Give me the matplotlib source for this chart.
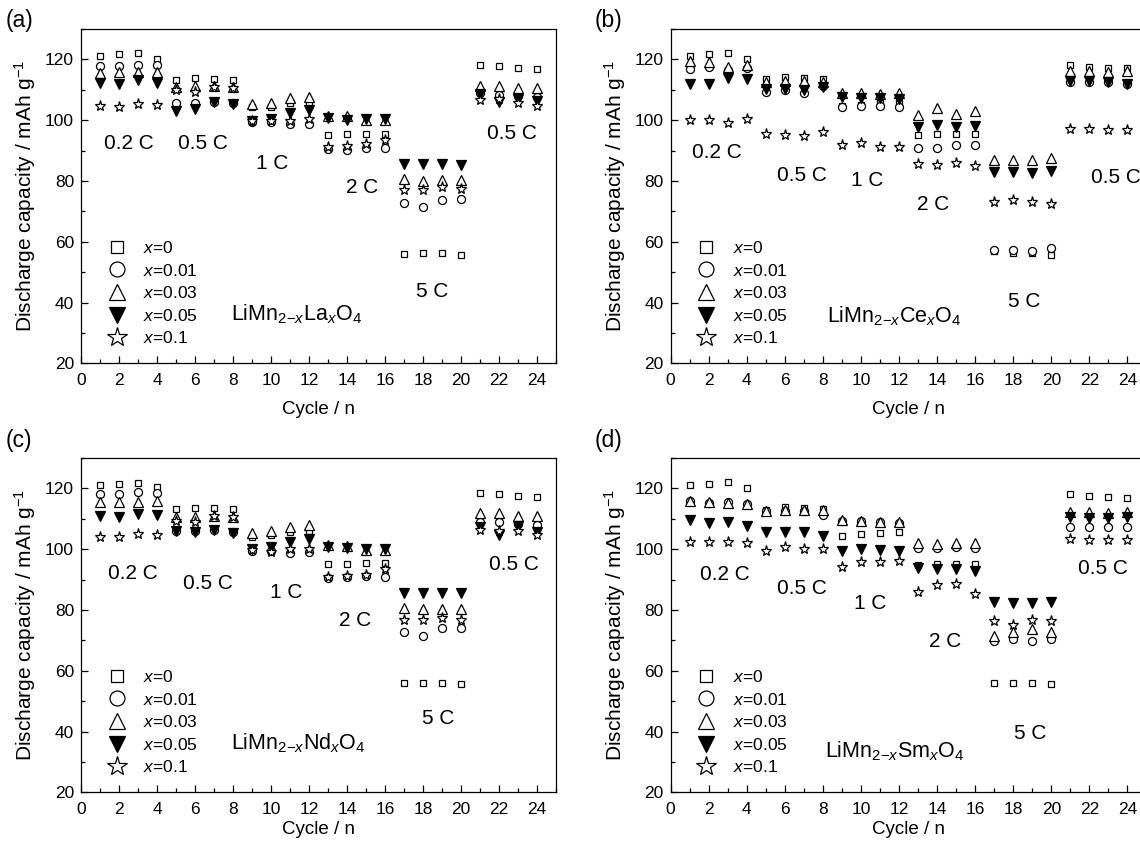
import numpy as np
import matplotlib
matplotlib.use("Agg")
import matplotlib.pyplot as plt
from matplotlib.ticker import MultipleLocator

plt.rcParams['font.family'] = ['Liberation Sans', 'DejaVu Sans']
plt.rcParams['mathtext.fontset'] = 'custom'
plt.rcParams['mathtext.rm'] = 'Liberation Sans'
plt.rcParams['mathtext.it'] = 'Liberation Sans:italic'
plt.rcParams['mathtext.bf'] = 'Liberation Sans:bold'

cycles = np.arange(1, 25)
series_labels = ['$x$=0', '$x$=0.01', '$x$=0.03', '$x$=0.05', '$x$=0.1']
rate_labels = ['0.2 C', '0.5 C', '1 C', '2 C', '5 C', '0.5 C']
compounds = ['LiMn$_{2\\mathrm{-}x}$La$_x$O$_4$', 'LiMn$_{2\\mathrm{-}x}$Ce$_x$O$_4$',
             'LiMn$_{2\\mathrm{-}x}$Nd$_x$O$_4$', 'LiMn$_{2\\mathrm{-}x}$Sm$_x$O$_4$']
panel_tags = ['(a)', '(b)', '(c)', '(d)']

# La-doped
sq_a = [121.2, 121.6, 122.1, 120.2, 113.2, 113.9, 113.4, 113.2, 104.2, 104.3, 105.5, 105.5,
        95.1, 95.4, 95.4, 95.6, 56.0, 56.2, 56.2, 55.7, 118.1, 117.8, 117.0, 116.9]
ci_a = [117.9, 117.7, 118.1, 118.3, 105.6, 105.7, 106.0, 105.5, 99.4, 99.3, 98.6, 98.6,
        90.4, 90.2, 90.7, 90.7, 72.6, 71.4, 73.6, 73.9, 108.8, 108.3, 107.9, 107.7]
tr_a = [115.5, 115.7, 116.0, 115.7, 110.8, 111.3, 111.2, 110.8, 105.3, 105.6, 107.4, 107.5,
        101.5, 101.3, 100.2, 100.0, 80.6, 80.1, 80.2, 80.2, 111.4, 111.3, 110.6, 110.7]
fd_a = [112.2, 111.9, 113.3, 112.3, 102.9, 103.6, 106.0, 105.2, 99.6, 100.4, 102.2, 103.5,
        100.7, 100.1, 100.4, 100.4, 85.5, 85.5, 85.5, 85.4, 108.5, 106.0, 107.0, 106.2]
st_a = [104.5, 104.4, 105.2, 105.0, 109.9, 109.4, 111.0, 110.6, 99.6, 99.6, 99.8, 100.3,
        91.3, 91.6, 92.3, 93.5, 77.1, 77.0, 78.0, 77.2, 106.6, 107.0, 105.6, 104.6]

# Ce-doped
sq_b = [121.2, 121.6, 122.2, 120.1, 113.4, 114.1, 113.8, 113.6, 104.5, 105.0, 105.5, 106.0,
        95.1, 95.4, 95.4, 95.4, 56.8, 56.2, 56.2, 55.7, 118.1, 117.6, 117.0, 117.0]
ci_b = [116.8, 117.6, 116.5, 117.0, 109.3, 109.9, 109.0, 111.3, 104.4, 104.6, 104.6, 104.2,
        90.7, 91.0, 91.8, 91.7, 57.2, 57.2, 57.0, 58.0, 112.4, 112.6, 112.4, 112.0]
tr_b = [119.4, 119.0, 117.6, 118.1, 112.6, 113.0, 112.8, 112.5, 108.8, 108.9, 108.6, 108.9,
        101.7, 103.9, 102.0, 103.1, 86.9, 86.9, 86.8, 87.4, 116.3, 116.3, 116.0, 116.3]
fd_b = [111.8, 111.8, 114.0, 113.4, 110.1, 110.1, 109.8, 110.8, 107.5, 107.4, 107.2, 107.0,
        97.6, 98.4, 97.9, 98.1, 83.0, 83.0, 82.6, 83.3, 112.9, 112.9, 112.5, 112.0]
st_b = [100.0, 100.0, 99.1, 100.3, 95.3, 95.0, 94.8, 96.2, 91.8, 92.6, 91.3, 91.1,
        85.6, 85.3, 85.8, 84.9, 73.0, 73.7, 73.0, 72.5, 97.0, 97.0, 96.8, 96.7]

# Nd-doped
sq_c = [121.1, 121.4, 121.8, 120.3, 113.1, 113.7, 113.5, 113.1, 104.0, 104.5, 105.7, 106.0,
        95.1, 95.1, 95.3, 95.3, 56.0, 56.1, 56.1, 55.8, 118.4, 118.0, 117.5, 117.0]
ci_c = [118.1, 118.1, 118.7, 118.6, 106.0, 106.0, 106.2, 105.6, 99.5, 99.5, 98.8, 99.2,
        90.6, 90.8, 91.3, 91.0, 72.8, 71.5, 74.0, 74.2, 109.0, 109.0, 108.3, 108.0]
tr_c = [115.6, 115.6, 115.6, 115.8, 110.5, 110.5, 111.0, 110.6, 105.2, 106.0, 107.4, 107.9,
        101.5, 101.0, 99.8, 99.8, 80.8, 80.3, 80.3, 80.4, 111.8, 111.8, 110.9, 110.9]
fd_c = [110.9, 110.7, 111.5, 111.2, 106.0, 105.8, 106.2, 105.4, 100.0, 100.6, 102.4, 103.5,
        100.6, 100.3, 100.2, 100.2, 85.5, 85.5, 85.5, 85.5, 107.4, 104.6, 107.6, 105.8]
st_c = [104.1, 104.1, 105.0, 104.6, 109.3, 109.0, 111.0, 110.5, 99.8, 99.2, 100.0, 100.2,
        90.7, 91.2, 91.6, 93.4, 76.6, 76.6, 77.2, 76.6, 106.3, 106.0, 106.0, 104.7]

# Sm-doped
sq_d = [121.1, 121.4, 122.0, 120.0, 112.9, 113.9, 113.6, 113.2, 104.3, 105.0, 105.4, 105.7,
        94.8, 95.1, 95.1, 95.1, 56.0, 56.1, 56.1, 55.8, 118.0, 117.5, 117.0, 116.7]
ci_d = [115.9, 115.3, 115.6, 114.8, 112.4, 112.6, 112.6, 111.2, 109.4, 109.2, 108.9, 108.6,
        100.3, 100.5, 100.6, 100.4, 69.8, 70.5, 69.8, 70.5, 107.4, 107.3, 107.3, 107.4]
tr_d = [115.9, 115.6, 115.3, 115.0, 112.6, 113.0, 113.0, 112.8, 109.6, 109.4, 109.0, 109.0,
        101.9, 101.7, 101.9, 101.9, 71.5, 72.6, 73.6, 72.6, 112.3, 112.3, 112.0, 112.3]
fd_d = [109.6, 108.7, 108.9, 107.6, 105.7, 105.7, 105.7, 104.3, 99.5, 100.0, 99.8, 99.5,
        93.7, 93.5, 93.5, 92.9, 82.5, 82.2, 82.3, 82.5, 110.5, 110.3, 110.3, 110.5]
st_d = [102.4, 102.4, 102.4, 101.9, 99.5, 100.6, 100.2, 100.2, 94.0, 95.9, 95.9, 96.2,
        86.0, 88.2, 88.5, 85.4, 76.5, 75.0, 76.8, 76.5, 103.3, 103.0, 103.0, 103.0]

panels = [
    [sq_a, ci_a, tr_a, fd_a, st_a],
    [sq_b, ci_b, tr_b, fd_b, st_b],
    [sq_c, ci_c, tr_c, fd_c, st_c],
    [sq_d, ci_d, tr_d, fd_d, st_d],
]

# marker style per composition
styles = [
    dict(marker='s', ms=5.0, mfc='white', mec='black'),
    dict(marker='o', ms=5.8, mfc='white', mec='black'),
    dict(marker='^', ms=6.5, mfc='white', mec='black'),
    dict(marker='v', ms=6.5, mfc='black', mec='black'),
    dict(marker='*', ms=8.0, mfc='white', mec='black'),
]

# rate-label anchor points (cycle, capacity) for each panel
rate_pos = [
    [(2.5, 92.4), (6.4, 92.4), (10.05, 85.6), (14.8, 77.7), (18.5, 43.5), (22.7, 95.7)],
    [(2.45, 89.2), (6.9, 81.9), (10.35, 80.3), (13.8, 72.1), (18.6, 40.3), (23.4, 81.0)],
    [(2.75, 92.1), (6.7, 88.8), (10.8, 85.8), (14.4, 76.6), (18.8, 44.4), (22.8, 94.8)],
    [(2.85, 91.5), (6.9, 87.1), (10.5, 82.2), (14.4, 69.5), (18.9, 39.4), (22.7, 93.7)],
]
compound_pos = [(7.9, 34.2), (8.2, 33.5), (7.9, 34.0), (8.1, 31.5)]

fig = plt.figure(figsize=(11.4, 8.42), dpi=100)
axes_rects = [
    [0.0711, 0.5685, 0.4167, 0.3971],
    [0.5883, 0.5685, 0.4174, 0.3971],
    [0.0711, 0.0590, 0.4167, 0.3971],
    [0.5883, 0.0590, 0.4174, 0.3971],
]
xlabel_pads = [9, 9, 2.5, 2.5]
tag_pos = [(0.005, 0.976), (0.522, 0.976), (0.005, 0.477), (0.522, 0.477)]

for k in range(4):
    ax = fig.add_axes(axes_rects[k])
    for vals, lab, st in zip(panels[k], series_labels, styles):
        ax.plot(cycles, vals, linestyle='none', mew=0.9, label=lab, clip_on=False, **st)
    ax.set_xlim(0, 25)
    ax.set_ylim(20, 130)
    ax.xaxis.set_major_locator(MultipleLocator(2))
    ax.xaxis.set_minor_locator(MultipleLocator(1))
    ax.yaxis.set_major_locator(MultipleLocator(20))
    ax.yaxis.set_minor_locator(MultipleLocator(10))
    ax.set_xticks(np.arange(0, 25, 2))
    ax.tick_params(which='both', direction='in', top=False, right=False, labelsize=12.5,
                   width=0.9)
    ax.tick_params(axis='x', pad=7)
    ax.tick_params(axis='y', pad=5)
    ax.tick_params(which='major', length=5)
    ax.tick_params(which='minor', length=3)
    for sp in ax.spines.values():
        sp.set_linewidth(0.9)
    ax.set_xlabel('Cycle / n', fontsize=13.5, labelpad=xlabel_pads[k])
    ax.set_ylabel('Discharge capacity / mAh g$^{\\mathrm{-1}}$', fontsize=15, labelpad=5)
    for txt, (xp, yp) in zip(rate_labels, rate_pos[k]):
        ax.text(xp, yp, txt, fontsize=15, ha='center', va='center')
    cx, cy = compound_pos[k]
    ax.text(cx, cy, compounds[k], fontsize=15.5, ha='left', va='baseline')
    ax.legend(loc='upper left', bbox_to_anchor=(0.057, 0.369), frameon=False, fontsize=12.5,
              markerscale=1.85, handlelength=1.0, handletextpad=1.0, labelspacing=0.38,
              borderpad=0.0, borderaxespad=0.0)
    fig.text(tag_pos[k][0], tag_pos[k][1], panel_tags[k], fontsize=16.5, ha='left', va='center')

fig.savefig('out.png', dpi=100)
